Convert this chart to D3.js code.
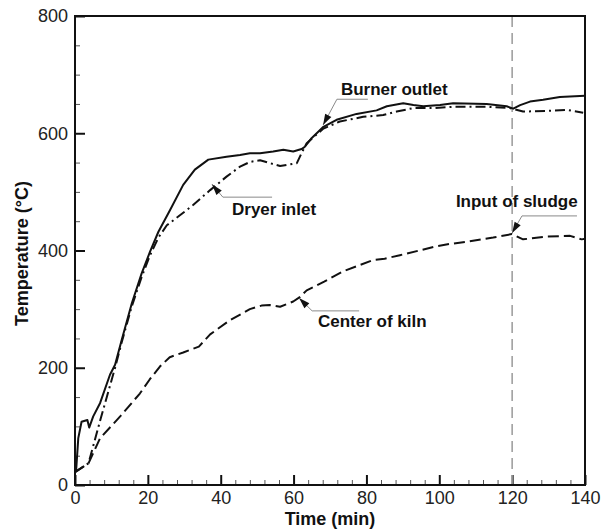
<!DOCTYPE html>
<html lang="en">
<head>
    <meta charset="UTF-8">
    <title>Temperature vs Time</title>
    <script src="https://d3js.org/d3.v7.min.js"></script>
    <style>
        body { margin: 0; background: #fff; font-family: "Liberation Sans", Arial, sans-serif; }
        svg { display: block; }
        .tick text { font-size: 18px; fill: #222; }
        .label { font-size: 17px; font-weight: bold; fill: #111; }
        .axis-title { font-size: 18px; font-weight: bold; fill: #111; }
    </style>
</head>
<body>
    <svg width="611" height="531"></svg>

    <script>
        // Burner outlet (solid)
        const burnerTime = [0, 0.3, 0.9, 1.8, 3.4, 3.9, 5.0, 6.9, 9.6, 11, 12.8, 15.6, 18.3, 20.6, 22.9, 26.1, 29.7, 32.9, 36.6, 41.6, 45.3, 48, 50.8, 54.4, 57.2, 59.9, 62.2, 63.1, 65, 68.2, 71.8, 77.3, 82.8, 85.6, 90.1, 92.9, 95.6, 100.2, 103.8, 113, 118.5, 120.3, 122.2, 124.9, 128.5, 133.1, 140];
        const burnerTemp = [22, 24, 80, 108, 111, 98, 117, 140, 188, 205, 247, 310, 361, 398, 432, 469, 512, 538, 555, 560, 563, 566, 566, 569, 572, 569, 573, 577, 592, 611, 623, 633, 639, 646, 651, 648, 646, 648, 651, 650, 646, 642, 648, 654, 657, 662, 664];

        // Dryer inlet (dash-dot)
        const dryerTime = [0, 3.7, 7, 11, 12.8, 15.6, 18.3, 20.6, 22.9, 25.2, 28.8, 32.5, 37.1, 41.6, 45.3, 48, 50.8, 56.3, 60.9, 62.2, 63.6, 68.2, 72.7, 79.1, 84.6, 88.3, 92.9, 98.4, 103.8, 113, 119.4, 123, 129.5, 135, 139.5];
        const dryerTemp = [22, 37, 112, 200, 243, 305, 355, 392, 422, 443, 460, 478, 503, 526, 543, 551, 554, 544, 549, 566, 583, 608, 620, 628, 631, 637, 643, 643, 645, 645, 643, 637, 638, 640, 635];

        // Center of kiln (dashed)
        const kilnTime = [0, 3.7, 6.9, 12.4, 17.8, 20.5, 23.3, 26, 29.7, 34, 37.1, 42.5, 48, 51.2, 53.5, 56.3, 59.9, 61.8, 63.6, 68.4, 73.8, 77.3, 81.9, 85, 89.2, 95.2, 98.4, 102.7, 107.5, 114.8, 119.9, 123, 129.5, 135.9, 139.1, 140];
        const kilnTemp = [22, 37, 80, 117, 156, 180, 202, 218, 226, 236, 257, 281, 300, 306, 307, 304, 313, 321, 332, 347, 365, 373, 384, 386, 392, 401, 406, 411, 415, 422, 428, 419, 424, 425, 419, 420];

        const xTicks = [0, 20, 40, 60, 80, 100, 120, 140];
        const yTicks = [0, 200, 400, 600, 800];
        const sludgeTime = 120;

        // annotation: label, arrow tip (t, T), leader corner, leader end, text anchor point
        const annoLabels = ["Burner outlet", "Dryer inlet", "Input of sludge", "Center of kiln"];
        const annoTip = [[68.1, 614], [37.6, 513], [120, 430], [61.5, 319]];
        const annoCorner = [[71.9, 658], [40.6, 491], [122.7, 459], [65.1, 297]];
        const annoEnd = [[80.4, 658], [54.1, 491], [137.8, 459], [78, 297]];
        const annoText = [[73, 665], [43.1, 460], [138, 474], [66.7, 270]];
        const annoAnchor = ["start", "start", "end", "start"];

        const margin = { top: 16, right: 26, bottom: 46, left: 75 };
        const width = 611 - margin.left - margin.right;
        const height = 531 - margin.top - margin.bottom;

        const svg = d3.select("svg")
            .append("g")
            .attr("transform", `translate(${margin.left},${margin.top})`);

        const x = d3.scaleLinear().domain([0, 140]).range([0, width]);
        const y = d3.scaleLinear().domain([0, 800]).range([height, 0]);

        // minor ticks
        svg.append("g")
            .attr("transform", `translate(0,${height})`)
            .call(d3.axisBottom(x).tickValues(d3.range(0, 141, 4).filter(v => v % 20)).tickSize(-5).tickFormat(""))
            .call(g => g.select(".domain").remove())
            .selectAll("line").attr("stroke", "#555").attr("stroke-width", 1);
        svg.append("g")
            .call(d3.axisLeft(y).tickValues(d3.range(0, 801, 50).filter(v => v % 200)).tickSize(-5).tickFormat(""))
            .call(g => g.select(".domain").remove())
            .selectAll("line").attr("stroke", "#555").attr("stroke-width", 1);

        // major ticks
        svg.append("g")
            .attr("transform", `translate(0,${height})`)
            .call(d3.axisBottom(x).tickValues(xTicks).tickSize(-10).tickPadding(6))
            .call(g => g.select(".domain").remove())
            .call(g => g.selectAll("line").attr("stroke", "#111").attr("stroke-width", 2));
        svg.append("g")
            .call(d3.axisLeft(y).tickValues(yTicks).tickSize(-10).tickPadding(7))
            .call(g => g.select(".domain").remove())
            .call(g => g.selectAll("line").attr("stroke", "#111").attr("stroke-width", 2));

        // sludge input marker
        svg.append("line")
            .attr("x1", x(sludgeTime)).attr("x2", x(sludgeTime))
            .attr("y1", 0).attr("y2", height)
            .attr("stroke", "#9a9a9a")
            .attr("stroke-width", 1.5)
            .attr("stroke-dasharray", "11,6");

        const line = d3.line()
            .x(d => x(d[0]))
            .y(d => y(d[1]));

        const series = [
            { t: burnerTime, v: burnerTemp, dash: null },
            { t: dryerTime, v: dryerTemp, dash: "10,4,2,4" },
            { t: kilnTime, v: kilnTemp, dash: "11,5" }
        ];
        series.forEach(s => {
            svg.append("path")
                .datum(d3.zip(s.t, s.v))
                .attr("fill", "none")
                .attr("stroke", "#111")
                .attr("stroke-width", 2)
                .attr("stroke-linejoin", "round")
                .attr("stroke-dasharray", s.dash)
                .attr("d", line);
        });

        // annotations
        annoLabels.forEach((lab, i) => {
            const tip = [x(annoTip[i][0]), y(annoTip[i][1])];
            const cor = [x(annoCorner[i][0]), y(annoCorner[i][1])];
            const end = [x(annoEnd[i][0]), y(annoEnd[i][1])];
            svg.append("polyline")
                .attr("points", [end, cor, tip].map(p => p.join(",")).join(" "))
                .attr("fill", "none")
                .attr("stroke", "#8a8a8a")
                .attr("stroke-width", 1);
            // arrow head
            const dx = tip[0] - cor[0], dy = tip[1] - cor[1];
            const len = Math.hypot(dx, dy);
            const ux = dx / len, uy = dy / len;
            const hl = 11, hw = 3.5;
            const bx = tip[0] - ux * hl, by = tip[1] - uy * hl;
            svg.append("polygon")
                .attr("points", [
                    tip,
                    [bx - uy * hw, by + ux * hw],
                    [bx + uy * hw, by - ux * hw]
                ].map(p => p.join(",")).join(" "))
                .attr("fill", "#111");
            svg.append("text")
                .attr("class", "label")
                .attr("x", x(annoText[i][0]))
                .attr("y", y(annoText[i][1]))
                .attr("text-anchor", annoAnchor[i])
                .text(lab);
        });

        // frame
        svg.append("rect")
            .attr("width", width)
            .attr("height", height)
            .attr("fill", "none")
            .attr("stroke", "#111")
            .attr("stroke-width", 2);

        // axis titles
        svg.append("text")
            .attr("class", "axis-title")
            .attr("x", width / 2)
            .attr("y", height + 39.5)
            .attr("text-anchor", "middle")
            .text("Time (min)");
        svg.append("text")
            .attr("class", "axis-title")
            .attr("transform", `translate(-47,${height / 2 + 3}) rotate(-90)`)
            .attr("text-anchor", "middle")
            .text("Temperature (°C)");
    </script>
</body>
</html>
